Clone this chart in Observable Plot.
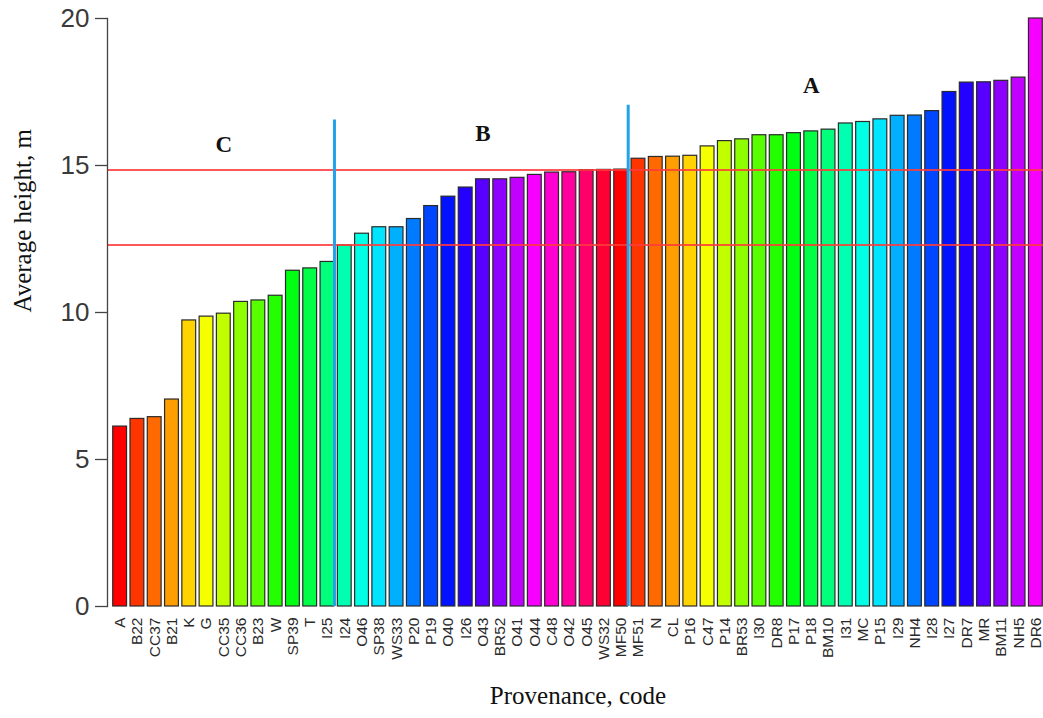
<!DOCTYPE html>
<html>
<head>
<meta charset="utf-8">
<script src="https://cdn.jsdelivr.net/npm/d3@7"></script>
<script src="https://cdn.jsdelivr.net/npm/@observablehq/plot@0.6"></script>
<style>
  html, body { margin: 0; padding: 0; background: #fff; }
  #chart svg { display: block; }
</style>
</head>
<body>
<div id="chart"></div>
<script>
// Provenance codes (x categories), in plotted order
const codes = ["A","B22","CC37","B21","K","G","CC35","CC36","B23","W","SP39","T","I25","I24","O46","SP38","WS33","P20","P19","O40","I26","O43","BR52","O41","O44","C48","O42","O45","WS32","MF50","MF51","N","CL","P16","C47","P14","BR53","I30","DR8","P17","P18","BM10","I31","MC","P15","I29","NH4","I28","I27","DR7","MR","BM11","NH5","DR6"];
// Average height, m
const heights = [6.12,6.38,6.44,7.04,9.73,9.86,9.96,10.36,10.41,10.57,11.42,11.5,11.72,12.28,12.68,12.9,12.9,13.18,13.62,13.94,14.25,14.53,14.53,14.58,14.68,14.76,14.77,14.84,14.85,14.86,15.23,15.29,15.3,15.33,15.65,15.83,15.89,16.03,16.03,16.1,16.16,16.22,16.43,16.48,16.57,16.69,16.7,16.85,17.5,17.82,17.83,17.88,17.99,20.0];
// horizontal threshold lines
const thresholds = [14.85, 12.3];
// group dividers (line drawn at the right edge of these bars) and their top values
const dividerCodes = ["I25","MF50"];
const dividerTops = [16.55, 17.05];
// group labels
const groupNames = ["C","B","A"];
const groupAt = ["CC35","O43","P18"];
const groupY = [15.7, 16.1, 17.72];
const yTicks = [0,5,10,15,20];

const paletteSize = 29; // rainbow palette recycled
const bars = codes.map((c, i) => ({
  code: c,
  h: heights[i],
  color: d3.hsl(((i % paletteSize) / paletteSize) * 360, 1, 0.5).formatHex()
}));
const dividers = dividerCodes.map((c, i) => ({code: c, top: dividerTops[i]}));
const groups = groupNames.map((g, i) => ({name: g, code: groupAt[i], y: groupY[i]}));

const chart = Plot.plot({
  width: 1043,
  height: 718,
  marginLeft: 111,
  marginRight: -1,
  marginTop: 18,
  marginBottom: 112,
  style: {fontFamily: "'Liberation Sans', Arial, sans-serif", background: "#fff"},
  x: {domain: codes, paddingInner: 0.2, paddingOuter: 0.1, round: false, label: null},
  y: {domain: [0, 20], label: null},
  marks: [
    Plot.barY(bars, {x: "code", y: "h", fill: "color", stroke: "#2a2a2a", strokeWidth: 1.2}),
    Plot.ruleY(thresholds, {stroke: "#ff3b3b", strokeOpacity: 0.85, strokeWidth: 2, insetLeft: -4}),
    Plot.ruleX(dividers, {x: "code", y1: 0, y2: "top", dx: 7, stroke: "#22a2e8", strokeWidth: 3}),
    Plot.text(groups, {x: "code", y: "y", text: "name", fontFamily: "'Liberation Serif', 'Times New Roman', serif", fontWeight: "bold", fontSize: 23, fill: "#111"}),
    Plot.frame({anchor: "left", dx: -4, stroke: "#444", strokeWidth: 1.3}),
    Plot.axisY({ticks: yTicks, tickSize: 12, tickPadding: 6, dx: -4, fontSize: 26, fill: "#3a3a3a", stroke: "#444", strokeWidth: 1.3, label: null}),
    Plot.axisX({tickSize: 0, tickPadding: 11, tickRotate: -90, fontSize: 15.5, fill: "#2a2a2a", label: null}),
    Plot.text(["Average height, m"], {frameAnchor: "left", text: d => d, rotate: -90, dx: -89, fontFamily: "'Liberation Serif', 'Times New Roman', serif", fontSize: 25, fill: "#111"}),
    Plot.text(["Provenance, code"], {frameAnchor: "bottom", text: d => d, dy: 97, fontFamily: "'Liberation Serif', 'Times New Roman', serif", fontSize: 25, fill: "#111"})
  ]
});
document.getElementById("chart").appendChild(chart);
</script>
</body>
</html>
